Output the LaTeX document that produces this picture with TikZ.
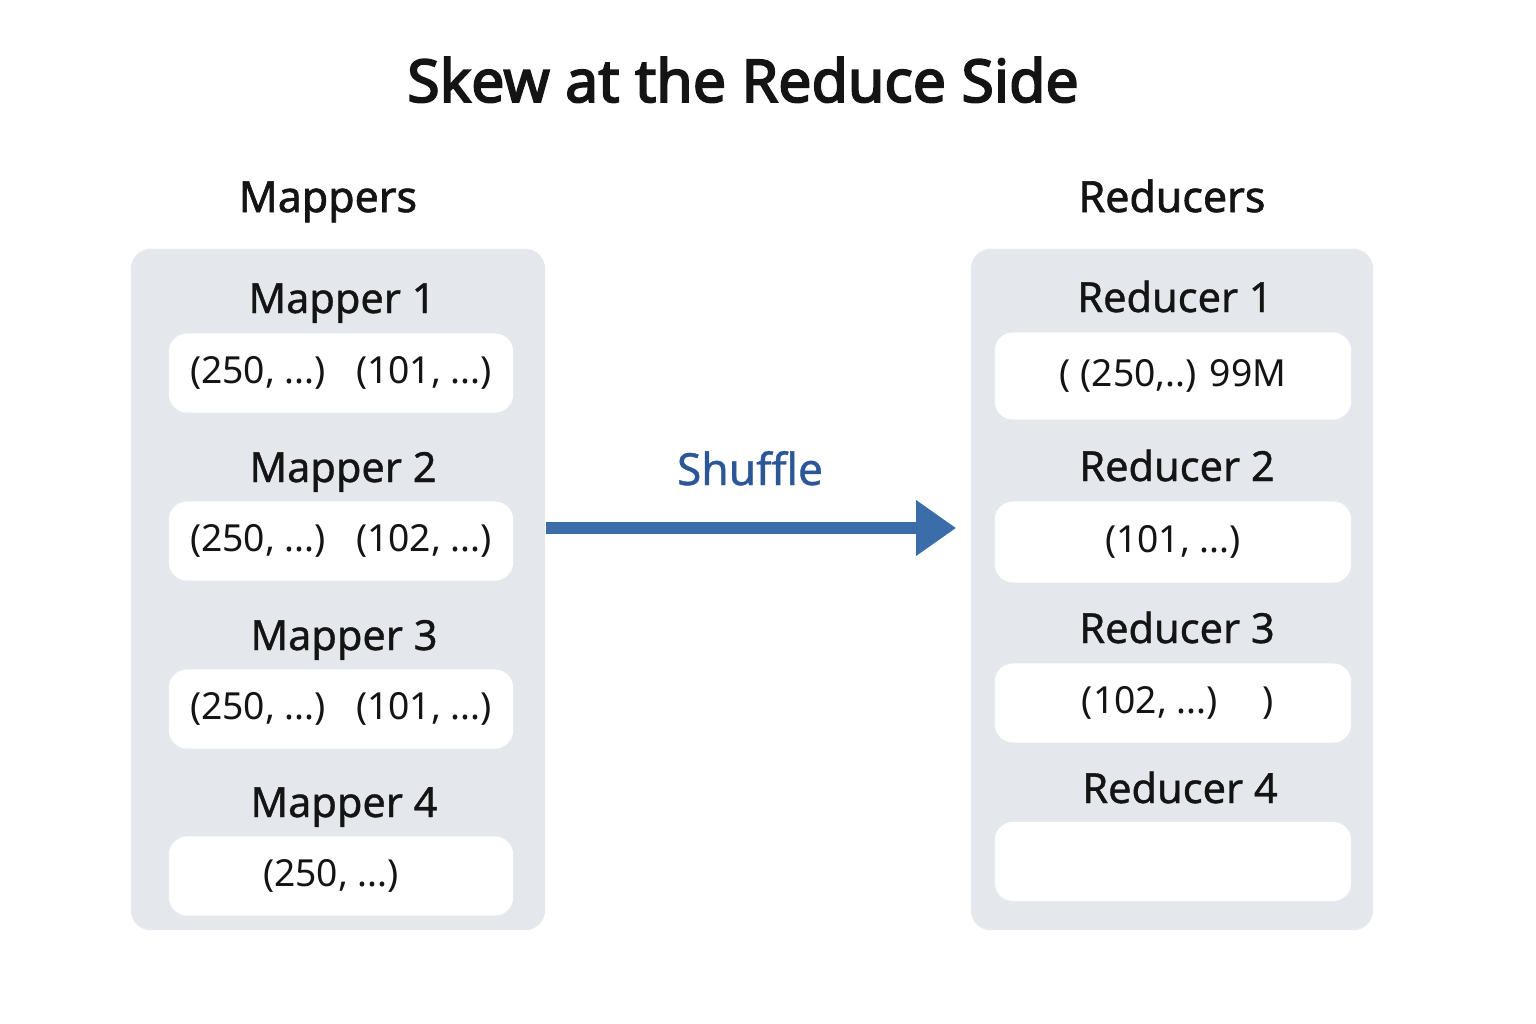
\documentclass[tikz,border=0pt]{standalone}
\usepackage{fontspec}
\setmainfont{Noto Sans}
\newfontfamily\heavyfont[FakeBold=3]{Noto Sans}
\newfontfamily\semifont[FakeBold=1.5]{Noto Sans}
\newfontfamily\midfont[FakeBold=0.9]{Noto Sans}
\usetikzlibrary{arrows.meta}

\definecolor{panelgray}{HTML}{E4E8ED}
\definecolor{inkdark}{HTML}{141414}
\definecolor{shuffleblue}{HTML}{2B5797}
\definecolor{arrowblue}{HTML}{3C6DAB}

\begin{document}
\begin{tikzpicture}[x=0.01cm,y=-0.01cm,
  panel/.style={rectangle,rounded corners=0.2cm,fill=panelgray,minimum height=6.81cm},
  slot/.style={rectangle,rounded corners=0.18cm,fill=white,text=inkdark,font=\fontsize{10.6}{12}\selectfont},
  tag/.style={anchor=base,text=inkdark,font=\midfont\fontsize{11.8}{14}\selectfont},
  head/.style={anchor=base,text=inkdark,font=\semifont\fontsize{12.2}{14}\selectfont},
  flow/.style={draw=arrowblue,line width=0.12cm,-{Triangle[length=0.4cm,width=0.53cm,fill=arrowblue]}}]

%SPACING
\useasboundingbox (0,0) rectangle (1536,1024);
%SPACING

\node[anchor=base,text=inkdark,font=\heavyfont\fontsize{16.8}{20}\selectfont](title) at (743,102) {Skew at the Reduce Side};

\node[head](hm) at (328,212) {Mappers};
\node[head](hr) at (1172,212) {Reducers};

\node[panel,minimum width=4.14cm](mp) at (338,589.5) {};
\node[panel,minimum width=4.02cm](rp) at (1172,589.5) {};

\node[tag](m1) at (342,313) {Mapper 1};
\node[slot,minimum width=3.44cm,minimum height=0.79cm](b1) at (341,373) {(250, ...)\hspace{0.3cm}(101, ...)};
\node[tag](m2) at (343,482) {Mapper 2};
\node[slot,minimum width=3.44cm,minimum height=0.79cm](b2) at (341,541) {(250, ...)\hspace{0.3cm}(102, ...)};
\node[tag](m3) at (344,650) {Mapper 3};
\node[slot,minimum width=3.44cm,minimum height=0.79cm](b3) at (341,709) {(250, ...)\hspace{0.3cm}(101, ...)};
\node[tag](m4) at (344,817) {Mapper 4};
\node[slot,minimum width=3.44cm,minimum height=0.79cm](b4) at (341,876) {\hspace{-0.2cm}(250, ...)};

\node[tag](r1) at (1175,312) {Reducer 1};
\node[slot,minimum width=3.56cm,minimum height=0.87cm](c1) at (1173,376) {( (250,..) 99M};
\node[tag](r2) at (1177,481) {Reducer 2};
\node[slot,minimum width=3.56cm,minimum height=0.81cm](c2) at (1173,542) {(101, ...)};
\node[tag](r3) at (1177,643) {Reducer 3};
\node[slot,minimum width=3.56cm,minimum height=0.79cm](c3) at (1173,703) {\hspace{0.1cm}(102, ...)\hspace{0.45cm})};
\node[tag](r4) at (1180,803) {Reducer 4};
\node[slot,minimum width=3.56cm,minimum height=0.79cm](c4) at (1173,861.5) {};

\node[anchor=base,text=shuffleblue,font=\midfont\fontsize{12.6}{14}\selectfont](sh) at (750,485) {Shuffle};
\coordinate (ay) at (750,528);

\draw[flow] (mp.east |- ay) -- ([xshift=-0.14cm]rp.west |- ay);

\end{tikzpicture}
\end{document}
